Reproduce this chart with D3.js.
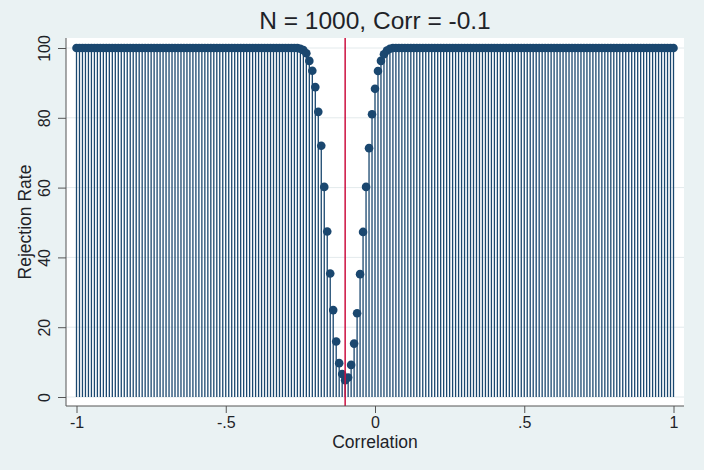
<!DOCTYPE html>
<html>
<head>
<meta charset="utf-8">
<script src="https://cdn.jsdelivr.net/npm/d3@7"></script>
<style>
  html, body { margin: 0; padding: 0; background: #EAF2F3; }
  svg text { font-family: "Liberation Sans", Arial, sans-serif; fill: #1e2328; }
</style>
</head>
<body>
<svg id="chart" width="704" height="470"></svg>
<script>
const correlations = [
  -1,-0.99,-0.98,-0.97,-0.96,-0.95,-0.94,-0.93,-0.92,-0.91,
  -0.9,-0.89,-0.88,-0.87,-0.86,-0.85,-0.84,-0.83,-0.82,-0.81,
  -0.8,-0.79,-0.78,-0.77,-0.76,-0.75,-0.74,-0.73,-0.72,-0.71,
  -0.7,-0.69,-0.68,-0.67,-0.66,-0.65,-0.64,-0.63,-0.62,-0.61,
  -0.6,-0.59,-0.58,-0.57,-0.56,-0.55,-0.54,-0.53,-0.52,-0.51,
  -0.5,-0.49,-0.48,-0.47,-0.46,-0.45,-0.44,-0.43,-0.42,-0.41,
  -0.4,-0.39,-0.38,-0.37,-0.36,-0.35,-0.34,-0.33,-0.32,-0.31,
  -0.3,-0.29,-0.28,-0.27,-0.26,-0.25,-0.24,-0.23,-0.22,-0.21,
  -0.2,-0.19,-0.18,-0.17,-0.16,-0.15,-0.14,-0.13,-0.12,-0.11,
  -0.1,-0.09,-0.08,-0.07,-0.06,-0.05,-0.04,-0.03,-0.02,-0.01,
  0,0.01,0.02,0.03,0.04,0.05,0.06,0.07,0.08,0.09,
  0.1,0.11,0.12,0.13,0.14,0.15,0.16,0.17,0.18,0.19,
  0.2,0.21,0.22,0.23,0.24,0.25,0.26,0.27,0.28,0.29,
  0.3,0.31,0.32,0.33,0.34,0.35,0.36,0.37,0.38,0.39,
  0.4,0.41,0.42,0.43,0.44,0.45,0.46,0.47,0.48,0.49,
  0.5,0.51,0.52,0.53,0.54,0.55,0.56,0.57,0.58,0.59,
  0.6,0.61,0.62,0.63,0.64,0.65,0.66,0.67,0.68,0.69,
  0.7,0.71,0.72,0.73,0.74,0.75,0.76,0.77,0.78,0.79,
  0.8,0.81,0.82,0.83,0.84,0.85,0.86,0.87,0.88,0.89,
  0.9,0.91,0.92,0.93,0.94,0.95,0.96,0.97,0.98,0.99,
  1
];
const rejectionRate = [
  100,100,100,100,100,100,100,100,100,100,
  100,100,100,100,100,100,100,100,100,100,
  100,100,100,100,100,100,100,100,100,100,
  100,100,100,100,100,100,100,100,100,100,
  100,100,100,100,100,100,100,100,100,100,
  100,100,100,100,100,100,100,100,100,100,
  100,100,100,100,100,100,100,100,100,100,
  100,100,100,100,100,99.8,99.4,98.5,96.3,93.5,
  88.8,81.7,72.0,60.2,47.4,35.4,24.9,15.9,9.7,6.6,
  4.8,5.6,9.2,15.3,24.0,35.2,47.3,60.2,71.3,81.0,
  88.3,93.4,96.3,98.2,99.3,99.8,100,100,100,100,
  100,100,100,100,100,100,100,100,100,100,
  100,100,100,100,100,100,100,100,100,100,
  100,100,100,100,100,100,100,100,100,100,
  100,100,100,100,100,100,100,100,100,100,
  100,100,100,100,100,100,100,100,100,100,
  100,100,100,100,100,100,100,100,100,100,
  100,100,100,100,100,100,100,100,100,100,
  100,100,100,100,100,100,100,100,100,100,
  100,100,100,100,100,100,100,100,100,100,
  100
];
const xTicks = [-1, -0.5, 0, 0.5, 1];
const xTickLabels = ["-1", "-.5", "0", ".5", "1"];
const yTicks = [0, 20, 40, 60, 80, 100];
const trueCorr = -0.1;
const titleText = "N = 1000, Corr = -0.1";
const xTitle = "Correlation";
const yTitle = "Rejection Rate";

const data = correlations.map((c, i) => ({ c, r: rejectionRate[i] }));

const svg = d3.select("#chart");
const W = 704, H = 470;
const plot = { left: 66, right: 684, top: 38, bottom: 406 };
const navy = "#1A476F";
const fontFam = '"Liberation Sans", Arial, sans-serif';

svg.append("rect").attr("width", W).attr("height", H).attr("fill", "#EAF2F3");
svg.append("rect")
  .attr("x", plot.left).attr("y", plot.top)
  .attr("width", plot.right - plot.left).attr("height", plot.bottom - plot.top)
  .attr("fill", "#ffffff");

const x = d3.scaleLinear().domain([-1, 1]).range([76.5, 673.5]);
const y = d3.scaleLinear().domain([0, 100]).range([397, 48]);

// gridlines
svg.append("g").selectAll("line").data(yTicks).join("line")
  .attr("x1", plot.left).attr("x2", plot.right)
  .attr("y1", d => y(d)).attr("y2", d => y(d))
  .attr("stroke", "#e3eaec").attr("stroke-width", 1);

// spikes
svg.append("g").selectAll("line").data(data).join("line")
  .attr("x1", d => x(d.c)).attr("x2", d => x(d.c))
  .attr("y1", y(0)).attr("y2", d => y(d.r))
  .attr("stroke", navy).attr("stroke-width", 1.3);

// markers
svg.append("g").selectAll("circle").data(data).join("circle")
  .attr("cx", d => x(d.c)).attr("cy", d => y(d.r))
  .attr("r", 4.3).attr("fill", navy);

// reference line
svg.append("line")
  .attr("x1", x(trueCorr)).attr("x2", x(trueCorr))
  .attr("y1", plot.top).attr("y2", plot.bottom)
  .attr("stroke", "#cc1040").attr("stroke-width", 1.5);

// axes
const xAxis = d3.axisBottom(x).tickValues(xTicks)
  .tickFormat((d, i) => xTickLabels[i]).tickSize(7).tickPadding(4);
const gx = svg.append("g").attr("transform", `translate(0,${plot.bottom})`).call(xAxis);
gx.select(".domain").remove();
gx.selectAll(".tick line").attr("stroke", "#555");
gx.selectAll(".tick text").attr("font-size", 16).attr("fill", "#1e2328")
  .style("font-family", fontFam);

const yAxis = d3.axisLeft(y).tickValues(yTicks).tickSize(8).tickFormat(d3.format("d"));
const gy = svg.append("g").attr("transform", `translate(${plot.left},0)`).call(yAxis);
gy.select(".domain").remove();
gy.selectAll(".tick line").attr("stroke", "#555");
gy.selectAll(".tick text")
  .attr("font-size", 16).attr("fill", "#1e2328")
  .style("font-family", fontFam)
  .attr("x", null).attr("dy", null)
  .attr("text-anchor", "middle")
  .attr("transform", "translate(-16,0) rotate(-90)");

svg.append("line").attr("x1", plot.left).attr("x2", plot.right)
  .attr("y1", plot.bottom).attr("y2", plot.bottom).attr("stroke", "#555");
svg.append("line").attr("x1", plot.left).attr("x2", plot.left)
  .attr("y1", plot.top).attr("y2", plot.bottom).attr("stroke", "#555");

// titles
svg.append("text").attr("x", (plot.left + plot.right) / 2).attr("y", 29)
  .attr("text-anchor", "middle").attr("font-size", 24.5).text(titleText);
svg.append("text").attr("x", (plot.left + plot.right) / 2).attr("y", 448)
  .attr("text-anchor", "middle").attr("font-size", 17.5).text(xTitle);
svg.append("text")
  .attr("transform", `translate(31,${(plot.top + plot.bottom) / 2}) rotate(-90)`)
  .attr("text-anchor", "middle").attr("font-size", 17.5).text(yTitle);
</script>
</body>
</html>
